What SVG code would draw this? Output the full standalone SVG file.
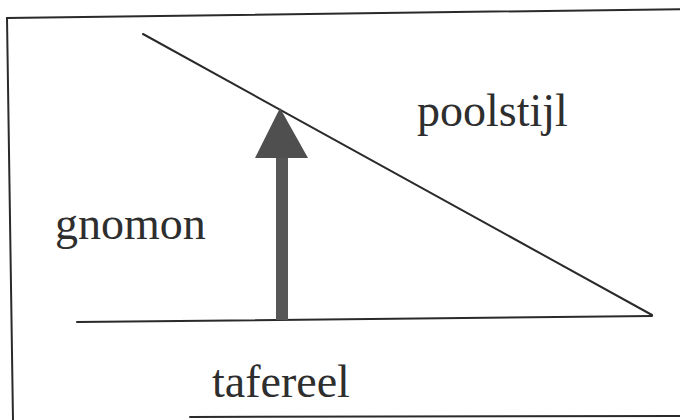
<svg xmlns="http://www.w3.org/2000/svg" width="680" height="420" viewBox="0 0 680 420">
  <style>
    .ln { stroke: #2a2a2a; stroke-width: 2; fill: none; stroke-linecap: round; }
    .lbl { font-family: "Liberation Serif", "Times New Roman", serif; font-size: 46px; fill: #2e2e2e; }
  </style>
  <rect x="0" y="0" width="680" height="420" fill="#ffffff"/>
  <g id="frame">
    <polyline class="ln" points="690,9 7,18 13,420"/>
    <line class="ln" x1="190" y1="417" x2="690" y2="416"/>
  </g>
  <g id="connectors">
    <line id="poolstijl-line" class="ln" x1="143" y1="34" x2="652" y2="315"/>
    <line id="tafereel-line" class="ln" x1="77" y1="322" x2="652" y2="316"/>
  </g>
  <g id="gnomon-arrow">
    <rect x="276" y="156" width="12" height="164" fill="#575757"/>
    <polygon points="280,108 255,158 308,158" fill="#4f4f4f"/>
  </g>
  <g id="label-poolstijl"><text class="lbl" x="417" y="126">poolstijl</text></g>
  <g id="label-gnomon"><text class="lbl" x="55" y="239">gnomon</text></g>
  <g id="label-tafereel"><text class="lbl" x="212" y="397">tafereel</text></g>
</svg>
